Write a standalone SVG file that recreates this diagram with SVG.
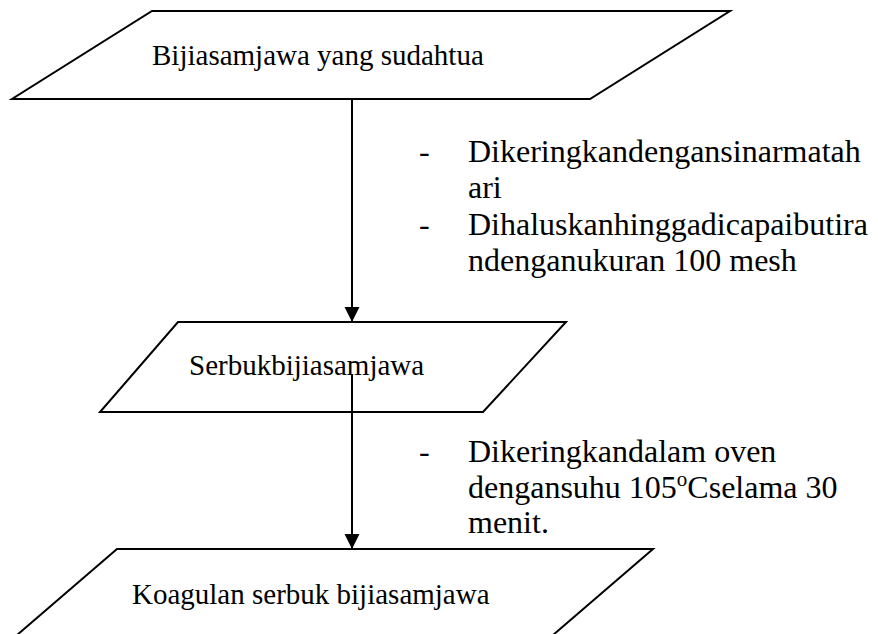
<svg xmlns="http://www.w3.org/2000/svg" width="878" height="634" viewBox="0 0 878 634">
<style>
.shape{fill:#fff;stroke:#000;stroke-width:2;stroke-linejoin:miter}
.lbl{font-family:"Liberation Serif","Times New Roman",serif;font-size:29px;fill:#000}
.note{font-family:"Liberation Serif","Times New Roman",serif;font-size:32px;fill:#000}
.conn{stroke:#000;stroke-width:2;fill:none}
</style>
<defs>
<marker id="ah" markerUnits="userSpaceOnUse" markerWidth="16" markerHeight="16" refX="15" refY="7.5" orient="auto">
<path d="M0,0 L15,7.5 L0,15 Z" fill="#000"/>
</marker>
</defs>
<rect width="878" height="634" fill="#fff"/>
<g id="node1">
<polygon class="shape" points="152,11 730,11 590,99 12,99"/>
<text class="lbl" x="152" y="65">Bijiasamjawa yang sudahtua</text>
</g>
<g id="node2">
<polygon class="shape" points="178,322 566,322 483,412 100,412"/>
<text class="lbl" x="189" y="375">Serbukbijiasamjawa</text>
</g>
<g id="node3">
<polygon class="shape" points="117,549 653,549 524,660 -12,660"/>
<text class="lbl" x="132" y="604">Koagulan serbuk bijiasamjawa</text>
</g>
<g id="connectors">
<line class="conn" x1="352" y1="99" x2="352" y2="322" marker-end="url(#ah)"/>
<line class="conn" x1="352" y1="375" x2="352" y2="549" marker-end="url(#ah)"/>
</g>
<g id="notes">
<text class="note" x="419" y="162">-</text>
<text class="note" x="468" y="162">Dikeringkandengansinarmatah</text>
<text class="note" x="468" y="198">ari</text>
<text class="note" x="419" y="235">-</text>
<text class="note" x="468" y="235">Dihaluskanhinggadicapaibutira</text>
<text class="note" x="468" y="271">ndenganukuran 100 mesh</text>
<text class="note" x="419" y="462">-</text>
<text class="note" x="468" y="462">Dikeringkandalam oven</text>
<text class="note" x="468" y="498">dengansuhu 105<tspan font-size="21" dy="-12">o</tspan><tspan dy="12">Cselama 30</tspan></text>
<text class="note" x="468" y="533">menit.</text>
</g>
</svg>
